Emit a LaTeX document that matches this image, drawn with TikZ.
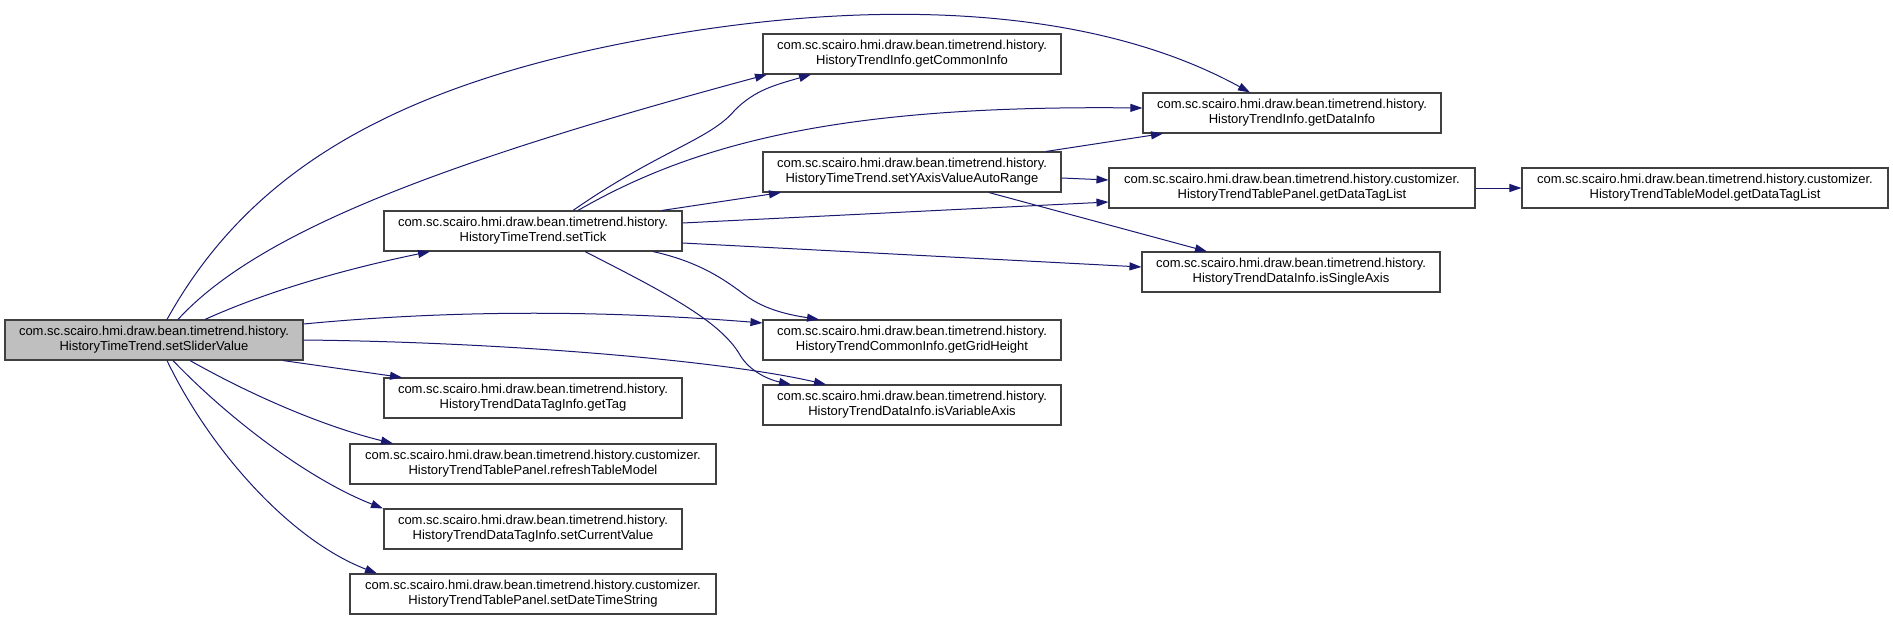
\documentclass[tikz,border=0pt]{standalone}
\usepackage{fontspec}
\setmainfont{Liberation Sans}
\usepackage{tikz}
\usetikzlibrary{arrows.meta}

\definecolor{edgeblue}{HTML}{191970}
\definecolor{boxgrey}{HTML}{BFBFBF}
\definecolor{boxline}{HTML}{404040}

\begin{document}
\begin{tikzpicture}[x=1pt, y=-1pt, >={Triangle[length=12pt, width=8pt]},
  method/.style={draw=boxline, line width=1.1pt, fill=white, align=center,
    minimum width=298pt, minimum height=40pt, inner sep=2pt,
    font=\fontsize{13}{15}\selectfont},
  wide/.style={method, minimum width=366pt},
  current/.style={method, fill=boxgrey},
  call/.style={->, draw=edgeblue, line width=1pt}]

\useasboundingbox (0,0) rectangle (1893,621);

% the function whose call graph is shown
\node[current] (slider) at (154,340) {com.sc.scairo.hmi.draw.bean.timetrend.history.\\HistoryTimeTrend.setSliderValue};

% first column of callees
\node[method] (settick) at (533,231) {com.sc.scairo.hmi.draw.bean.timetrend.history.\\HistoryTimeTrend.setTick};
\node[method] (gettag) at (533,398) {com.sc.scairo.hmi.draw.bean.timetrend.history.\\HistoryTrendDataTagInfo.getTag};
\node[wide] (refresh) at (533,464) {com.sc.scairo.hmi.draw.bean.timetrend.history.customizer.\\HistoryTrendTablePanel.refreshTableModel};
\node[method] (setcur) at (533,529) {com.sc.scairo.hmi.draw.bean.timetrend.history.\\HistoryTrendDataTagInfo.setCurrentValue};
\node[wide] (setdate) at (533,594) {com.sc.scairo.hmi.draw.bean.timetrend.history.customizer.\\HistoryTrendTablePanel.setDateTimeString};

% second column
\node[method] (cominfo) at (912,54) {com.sc.scairo.hmi.draw.bean.timetrend.history.\\HistoryTrendInfo.getCommonInfo};
\node[method] (setyaxis) at (912,172) {com.sc.scairo.hmi.draw.bean.timetrend.history.\\HistoryTimeTrend.setYAxisValueAutoRange};
\node[method] (gridh) at (912,340) {com.sc.scairo.hmi.draw.bean.timetrend.history.\\HistoryTrendCommonInfo.getGridHeight};
\node[method] (isvar) at (912,405) {com.sc.scairo.hmi.draw.bean.timetrend.history.\\HistoryTrendDataInfo.isVariableAxis};

% third column
\node[method] (datainfo) at (1292,113) {com.sc.scairo.hmi.draw.bean.timetrend.history.\\HistoryTrendInfo.getDataInfo};
\node[wide] (panellist) at (1292,188) {com.sc.scairo.hmi.draw.bean.timetrend.history.customizer.\\HistoryTrendTablePanel.getDataTagList};
\node[method] (issingle) at (1291,272) {com.sc.scairo.hmi.draw.bean.timetrend.history.\\HistoryTrendDataInfo.isSingleAxis};

% last column
\node[wide] (modellist) at (1705,188) {com.sc.scairo.hmi.draw.bean.timetrend.history.customizer.\\HistoryTrendTableModel.getDataTagList};

% calls made by setSliderValue
\draw[call] ([xshift=13pt]slider.north) .. controls (250,170) and (400,75) .. (700,30)
  .. controls (900,0) and (1100,10) .. ([xshift=-42pt]datainfo.north);
\draw[call] ([xshift=24pt]slider.north) .. controls (260,230) and (450,160) .. ([xshift=-145pt]cominfo.south);
\draw[call] ([xshift=51pt]slider.north) .. controls (270,290) and (350,268) .. ([xshift=-103pt]settick.south);
\draw[call] ([yshift=16pt]slider.east) .. controls (450,310) and (600,310) .. ([yshift=17pt]gridh.west);
\draw[call] (slider.east) .. controls (500,342) and (720,360) .. ([xshift=-86pt]isvar.north);
\draw[call] ([xshift=129pt]slider.south) -- ([xshift=-131pt]gettag.north);
\draw[call] ([xshift=36pt]slider.south) .. controls (260,400) and (330,428) .. ([xshift=-140pt]refresh.north);
\draw[call] ([xshift=19pt]slider.south) .. controls (230,420) and (310,480) .. ([xshift=-150pt]setcur.north);
\draw[call] ([xshift=13pt]slider.south) .. controls (210,450) and (290,540) .. ([xshift=-156pt]setdate.north);

% calls made by setTick
\draw[call] ([xshift=40pt]settick.north) .. controls (660,150) and (710,140) .. (735,110)
  .. controls (755,90) and (775,85) .. ([xshift=-101pt]cominfo.south);
\draw[call] ([xshift=45pt]settick.north) .. controls (700,140) and (850,105) .. ([yshift=5pt]datainfo.west);
\draw[call] ([xshift=129pt]settick.north) -- ([xshift=-131pt]setyaxis.south);
\draw[call] ([yshift=8pt]settick.east) -- ([yshift=-14pt]panellist.west);
\draw[call] ([yshift=-12pt]settick.east) -- ([yshift=5pt]issingle.west);
\draw[call] ([xshift=120pt]settick.south) .. controls (700,262) and (725,280) .. (745,295)
  .. controls (765,310) and (790,315) .. ([xshift=-93pt]gridh.north);
\draw[call] ([xshift=52pt]settick.south) .. controls (660,290) and (720,320) .. (740,355)
  .. controls (750,372) and (770,380) .. ([xshift=-121pt]isvar.north);

% calls made by setYAxisValueAutoRange
\draw[call] ([xshift=134pt]setyaxis.north) -- ([xshift=-129pt]datainfo.south);
\draw[call] ([yshift=-6pt]setyaxis.east) -- ([yshift=8pt]panellist.west);
\draw[call] ([xshift=77pt]setyaxis.south) -- ([xshift=-84pt]issingle.north);

% the panel asks the table model
\draw[call] (panellist.east) -- (modellist.west);

\end{tikzpicture}
\end{document}
